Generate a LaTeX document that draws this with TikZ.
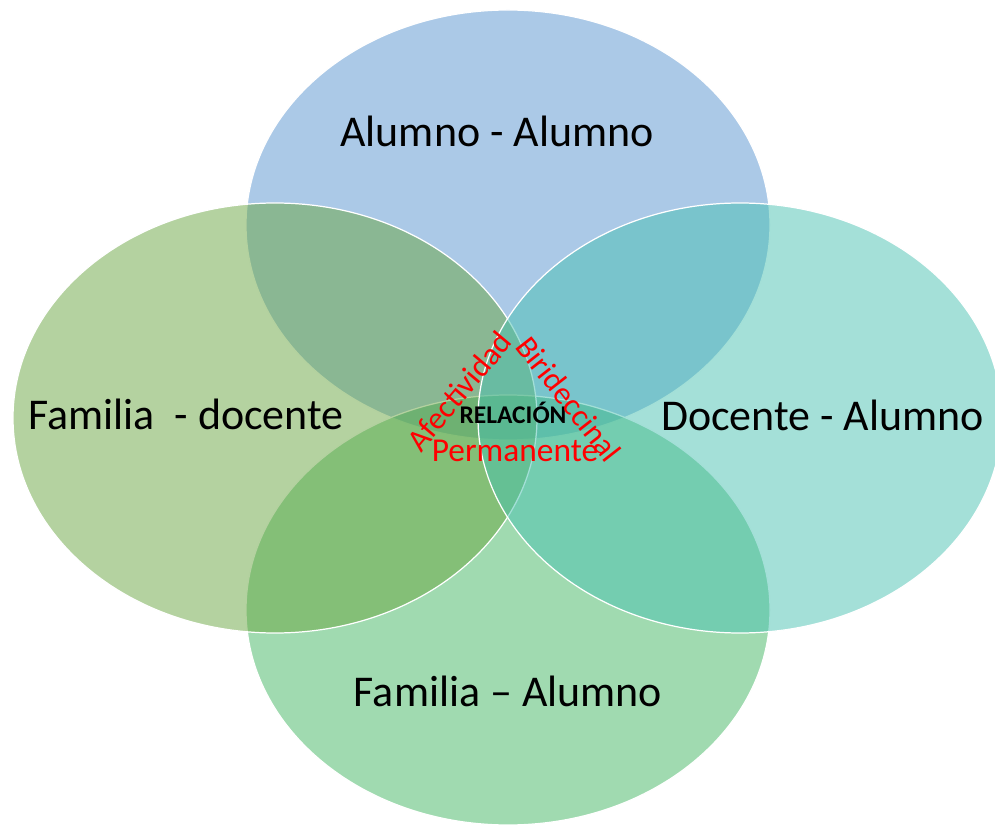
\documentclass[tikz,border=0pt]{standalone}
\usepackage{fontspec}
\setmainfont{Carlito}
\definecolor{azul}{RGB}{87,147,207}
\definecolor{oliva}{RGB}{105,165,65}
\definecolor{turquesa}{RGB}{73,193,177}
\definecolor{verde}{RGB}{65,181,97}
\begin{document}
\begin{tikzpicture}[
  circulo/.style={fill opacity=0.5, draw=white, line width=0.7pt},
  rotulo/.style={anchor=base, font=\fontsize{25}{30}\selectfont},
  palabra/.style={text=red, inner sep=0pt, font=\fontsize{18}{22}\selectfont}]
 \useasboundingbox (0,0) rectangle (19.9,16.48);
 \clip (0,0) rectangle (19.9,16.48);

 % four sets
 \foreach \x/\y/\col in {10.16/11.98/azul, 10.16/4.28/verde, 5.5/8.12/oliva, 14.8/8.12/turquesa} {
    \draw[circulo, fill=\col] (\x,\y) ellipse (5.24 and 4.3);
 }

 % labels
 \node[rotulo] (aa) at (9.94,13.54) {Alumno - Alumno};
 \node[rotulo] (fd) at (3.72,7.88) {Familia\ \ - docente};
 \node[rotulo] (da) at (16.45,7.86) {Docente - Alumno};
 \node[rotulo] (fa) at (10.16,2.36) {Familia – Alumno};

 % centre
 \node[anchor=base, font=\bfseries\fontsize{14.5}{17}\selectfont] (rel) at (10.26,8.0) {RELACIÓN};
 \node[palabra, rotate=50] (afe) at (9.18,8.66) {Afectividad};
 \node[palabra, rotate=-52] (bir) at (11.38,8.5) {Birideccinal};
 \node[palabra, anchor=base, font=\fontsize{19}{23}\selectfont] (per) at (10.3,7.24) {Permanente};
\end{tikzpicture}
\end{document}
